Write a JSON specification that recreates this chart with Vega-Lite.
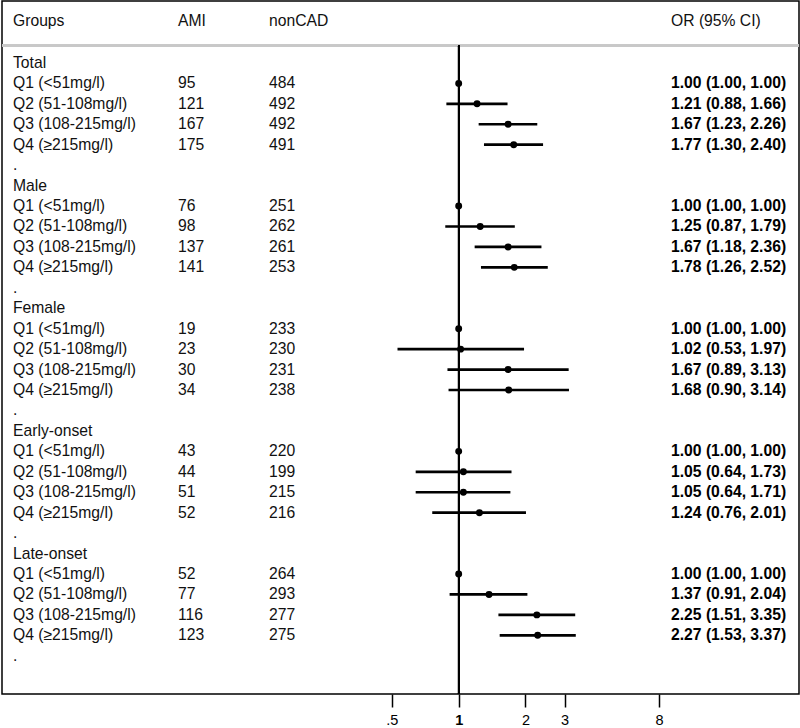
{
  "$schema": "https://vega.github.io/schema/vega-lite/v6.json",
  "width": 797,
  "height": 693,
  "padding": {"left": 1, "top": 1, "right": 1, "bottom": 0},
  "background": "white",
  "config": {
    "view": {"stroke": "black", "strokeWidth": 1.5},
    "font": "Liberation Sans",
    "text": {"font": "Liberation Sans", "fontSize": 15.7, "color": "#111111", "align": "left", "baseline": "middle"}
  },
  "data": {
    "values": [
      {"row": -2.05, "group": "Groups", "ami": "AMI", "noncad": "nonCAD", "orci": "OR (95% CI)", "hdr": true},
      {"row": 0, "group": "Total"},
      {"row": 1, "group": "Q1 (<51mg/l)", "ami": "95", "noncad": "484", "orci": "1.00 (1.00, 1.00)", "or": 1.00, "lo": 1.00, "hi": 1.00},
      {"row": 2, "group": "Q2 (51-108mg/l)", "ami": "121", "noncad": "492", "orci": "1.21 (0.88, 1.66)", "or": 1.21, "lo": 0.88, "hi": 1.66},
      {"row": 3, "group": "Q3 (108-215mg/l)", "ami": "167", "noncad": "492", "orci": "1.67 (1.23, 2.26)", "or": 1.67, "lo": 1.23, "hi": 2.26},
      {"row": 4, "group": "Q4 (≥215mg/l)", "ami": "175", "noncad": "491", "orci": "1.77 (1.30, 2.40)", "or": 1.77, "lo": 1.30, "hi": 2.40},
      {"row": 5, "group": "."},
      {"row": 6, "group": "Male"},
      {"row": 7, "group": "Q1 (<51mg/l)", "ami": "76", "noncad": "251", "orci": "1.00 (1.00, 1.00)", "or": 1.00, "lo": 1.00, "hi": 1.00},
      {"row": 8, "group": "Q2 (51-108mg/l)", "ami": "98", "noncad": "262", "orci": "1.25 (0.87, 1.79)", "or": 1.25, "lo": 0.87, "hi": 1.79},
      {"row": 9, "group": "Q3 (108-215mg/l)", "ami": "137", "noncad": "261", "orci": "1.67 (1.18, 2.36)", "or": 1.67, "lo": 1.18, "hi": 2.36},
      {"row": 10, "group": "Q4 (≥215mg/l)", "ami": "141", "noncad": "253", "orci": "1.78 (1.26, 2.52)", "or": 1.78, "lo": 1.26, "hi": 2.52},
      {"row": 11, "group": "."},
      {"row": 12, "group": "Female"},
      {"row": 13, "group": "Q1 (<51mg/l)", "ami": "19", "noncad": "233", "orci": "1.00 (1.00, 1.00)", "or": 1.00, "lo": 1.00, "hi": 1.00},
      {"row": 14, "group": "Q2 (51-108mg/l)", "ami": "23", "noncad": "230", "orci": "1.02 (0.53, 1.97)", "or": 1.02, "lo": 0.53, "hi": 1.97},
      {"row": 15, "group": "Q3 (108-215mg/l)", "ami": "30", "noncad": "231", "orci": "1.67 (0.89, 3.13)", "or": 1.67, "lo": 0.89, "hi": 3.13},
      {"row": 16, "group": "Q4 (≥215mg/l)", "ami": "34", "noncad": "238", "orci": "1.68 (0.90, 3.14)", "or": 1.68, "lo": 0.90, "hi": 3.14},
      {"row": 17, "group": "."},
      {"row": 18, "group": "Early-onset"},
      {"row": 19, "group": "Q1 (<51mg/l)", "ami": "43", "noncad": "220", "orci": "1.00 (1.00, 1.00)", "or": 1.00, "lo": 1.00, "hi": 1.00},
      {"row": 20, "group": "Q2 (51-108mg/l)", "ami": "44", "noncad": "199", "orci": "1.05 (0.64, 1.73)", "or": 1.05, "lo": 0.64, "hi": 1.73},
      {"row": 21, "group": "Q3 (108-215mg/l)", "ami": "51", "noncad": "215", "orci": "1.05 (0.64, 1.71)", "or": 1.05, "lo": 0.64, "hi": 1.71},
      {"row": 22, "group": "Q4 (≥215mg/l)", "ami": "52", "noncad": "216", "orci": "1.24 (0.76, 2.01)", "or": 1.24, "lo": 0.76, "hi": 2.01},
      {"row": 23, "group": "."},
      {"row": 24, "group": "Late-onset"},
      {"row": 25, "group": "Q1 (<51mg/l)", "ami": "52", "noncad": "264", "orci": "1.00 (1.00, 1.00)", "or": 1.00, "lo": 1.00, "hi": 1.00},
      {"row": 26, "group": "Q2 (51-108mg/l)", "ami": "77", "noncad": "293", "orci": "1.37 (0.91, 2.04)", "or": 1.37, "lo": 0.91, "hi": 2.04},
      {"row": 27, "group": "Q3 (108-215mg/l)", "ami": "116", "noncad": "277", "orci": "2.25 (1.51, 3.35)", "or": 2.25, "lo": 1.51, "hi": 3.35},
      {"row": 28, "group": "Q4 (≥215mg/l)", "ami": "123", "noncad": "275", "orci": "2.27 (1.53, 3.37)", "or": 2.27, "lo": 1.53, "hi": 3.37},
      {"row": 29, "group": "."}
    ]
  },
  "encoding": {
    "y": {"field": "row", "type": "quantitative", "scale": {"domain": [-3.03, 30.87], "reverse": true, "zero": false, "nice": false}, "axis": null}
  },
  "layer": [
    {
      "mark": {"type": "rule", "color": "#c8c8c8", "strokeWidth": 2},
      "encoding": {"y": {"datum": -0.87}}
    },
    {
      "mark": {"type": "rule", "color": "black", "strokeWidth": 1.4},
      "encoding": {
        "x": {"datum": 1, "type": "quantitative", "scale": {"type": "log", "domain": [0.00875, 34.16], "nice": false}, "axis": null},
        "y": {"datum": -0.87},
        "y2": {"datum": 30.87}
      }
    },
    {
      "transform": [{"filter": "isValid(datum.or)"}],
      "mark": {"type": "rule", "color": "black", "strokeWidth": 2.7},
      "encoding": {
        "x": {"field": "lo", "type": "quantitative", "scale": {"type": "log", "domain": [0.00875, 34.16], "nice": false},
          "axis": {"values": [0.5, 1, 2, 3, 8], "format": "~g", "labelExpr": "datum.value == 0.5 ? '.5' : datum.label", "domain": false, "grid": false, "ticks": true, "tickColor": "black", "tickWidth": 1.5, "tickSize": 13, "labelFont": "Liberation Sans", "labelFontSize": 14.5, "labelColor": "black", "labelPadding": 6, "labelFontWeight": {"condition": {"test": "datum.value == 1", "value": "bold"}, "value": "normal"}, "title": null, "labelFlush": false, "labelOverlap": false}},
        "x2": {"field": "hi"}
      }
    },
    {
      "transform": [{"filter": "isValid(datum.or)"}],
      "mark": {"type": "circle", "color": "black", "opacity": 1, "size": 48},
      "encoding": {
        "x": {"field": "or", "type": "quantitative", "scale": {"type": "log", "domain": [0.00875, 34.16], "nice": false}, "axis": null}
      }
    },
    {
      "mark": {"type": "text"},
      "encoding": {
        "x": {"datum": 1.38, "type": "quantitative", "scale": {"domain": [0, 100], "nice": false, "zero": false}, "axis": null},
        "text": {"field": "group"}
      }
    },
    {
      "transform": [{"filter": "isValid(datum.ami)"}],
      "mark": {"type": "text"},
      "encoding": {
        "x": {"datum": 22.08, "type": "quantitative", "scale": {"domain": [0, 100], "nice": false, "zero": false}, "axis": null},
        "text": {"field": "ami"}
      }
    },
    {
      "transform": [{"filter": "isValid(datum.noncad)"}],
      "mark": {"type": "text"},
      "encoding": {
        "x": {"datum": 33.5, "type": "quantitative", "scale": {"domain": [0, 100], "nice": false, "zero": false}, "axis": null},
        "text": {"field": "noncad"}
      }
    },
    {
      "transform": [{"filter": "isValid(datum.orci) && datum.row < 0"}],
      "mark": {"type": "text"},
      "encoding": {
        "x": {"datum": 83.94, "type": "quantitative", "scale": {"domain": [0, 100], "nice": false, "zero": false}, "axis": null},
        "text": {"field": "orci"}
      }
    },
    {
      "transform": [{"filter": "isValid(datum.orci) && datum.row >= 0"}],
      "mark": {"type": "text", "color": "black", "fontWeight": "bold"},
      "encoding": {
        "x": {"datum": 83.94, "type": "quantitative", "scale": {"domain": [0, 100], "nice": false, "zero": false}, "axis": null},
        "text": {"field": "orci"}
      }
    }
  ],
  "resolve": {"scale": {"x": "independent"}}
}
